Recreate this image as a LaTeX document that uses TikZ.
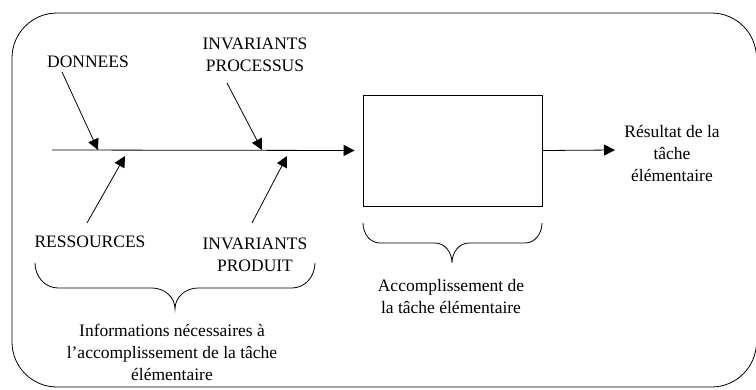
\documentclass[tikz,border=0pt]{standalone}
\usepackage{fontspec}
\setmainfont{Liberation Serif}
\usetikzlibrary{arrows.meta}

\begin{document}
\begin{tikzpicture}[x=1pt, y=-1pt, line width=0.8pt,
	t/.style={align=center, font=\fontsize{17.5}{22}\selectfont, inner sep=0pt},
	a/.style={-{Triangle[length=11pt, width=11pt]}}]
	\useasboundingbox (0,0) rectangle (756,389);
	\draw[rounded corners=45pt] (12,13) rectangle (756.5,387);

	\node[draw, inner sep=0pt, minimum width=179pt, minimum height=111pt] (tache) at (452.5,150.5) {};
	\node[t] (donnees) at (88,62) {DONNEES};
	\node[t] (invproc) at (255,55) {INVARIANTS\\PROCESSUS};
	\node[t] (ress) at (90,242) {RESSOURCES};
	\node[t] (invprod) at (255,255) {INVARIANTS\\PRODUIT};
	\node[t] (resultat) at (672,153) {Résultat de la\\tâche\\élémentaire};
	\node[t] (infos) at (172,352) {Informations nécessaires à\\l'accomplissement de la tâche\\élémentaire};
	\node[t] (accomp) at (451,297) {Accomplissement de\\la tâche élémentaire};

	\coordinate (debut) at (52,150);
	\coordinate (fin) at (615,150);
	\coordinate (p1) at (98,150);
	\coordinate (p2) at (262,150);
	\coordinate (p3) at (125,156);
	\coordinate (p4) at (287,156);
	\coordinate (d1) at (62,72);
	\coordinate (d2) at (227,83);
	\coordinate (d3) at (87,223);
	\coordinate (d4) at (252,223);

	\draw[a, shorten >=8pt] (debut) -- (tache.west);
	\draw[a] (tache.east) -- (fin);
	\draw[a] (d1) -- (p1);
	\draw[a] (d2) -- (p2);
	\draw[a] (d3) -- (p3);
	\draw[a] (d4) -- (p4);

	% accolades
	\draw (35,263) to[out=-90, in=180] (58,288) -- (152,288) to[out=0, in=90] (175,309)
		to[out=90, in=180] (198,288) -- (292,288) to[out=0, in=-90] (315,263);
	\draw (363,223) to[out=-90, in=180] (380,243) -- (435,243) to[out=0, in=90] (452,263)
		to[out=90, in=180] (469,243) -- (525,243) to[out=0, in=-90] (542,223);
\end{tikzpicture}
\end{document}
